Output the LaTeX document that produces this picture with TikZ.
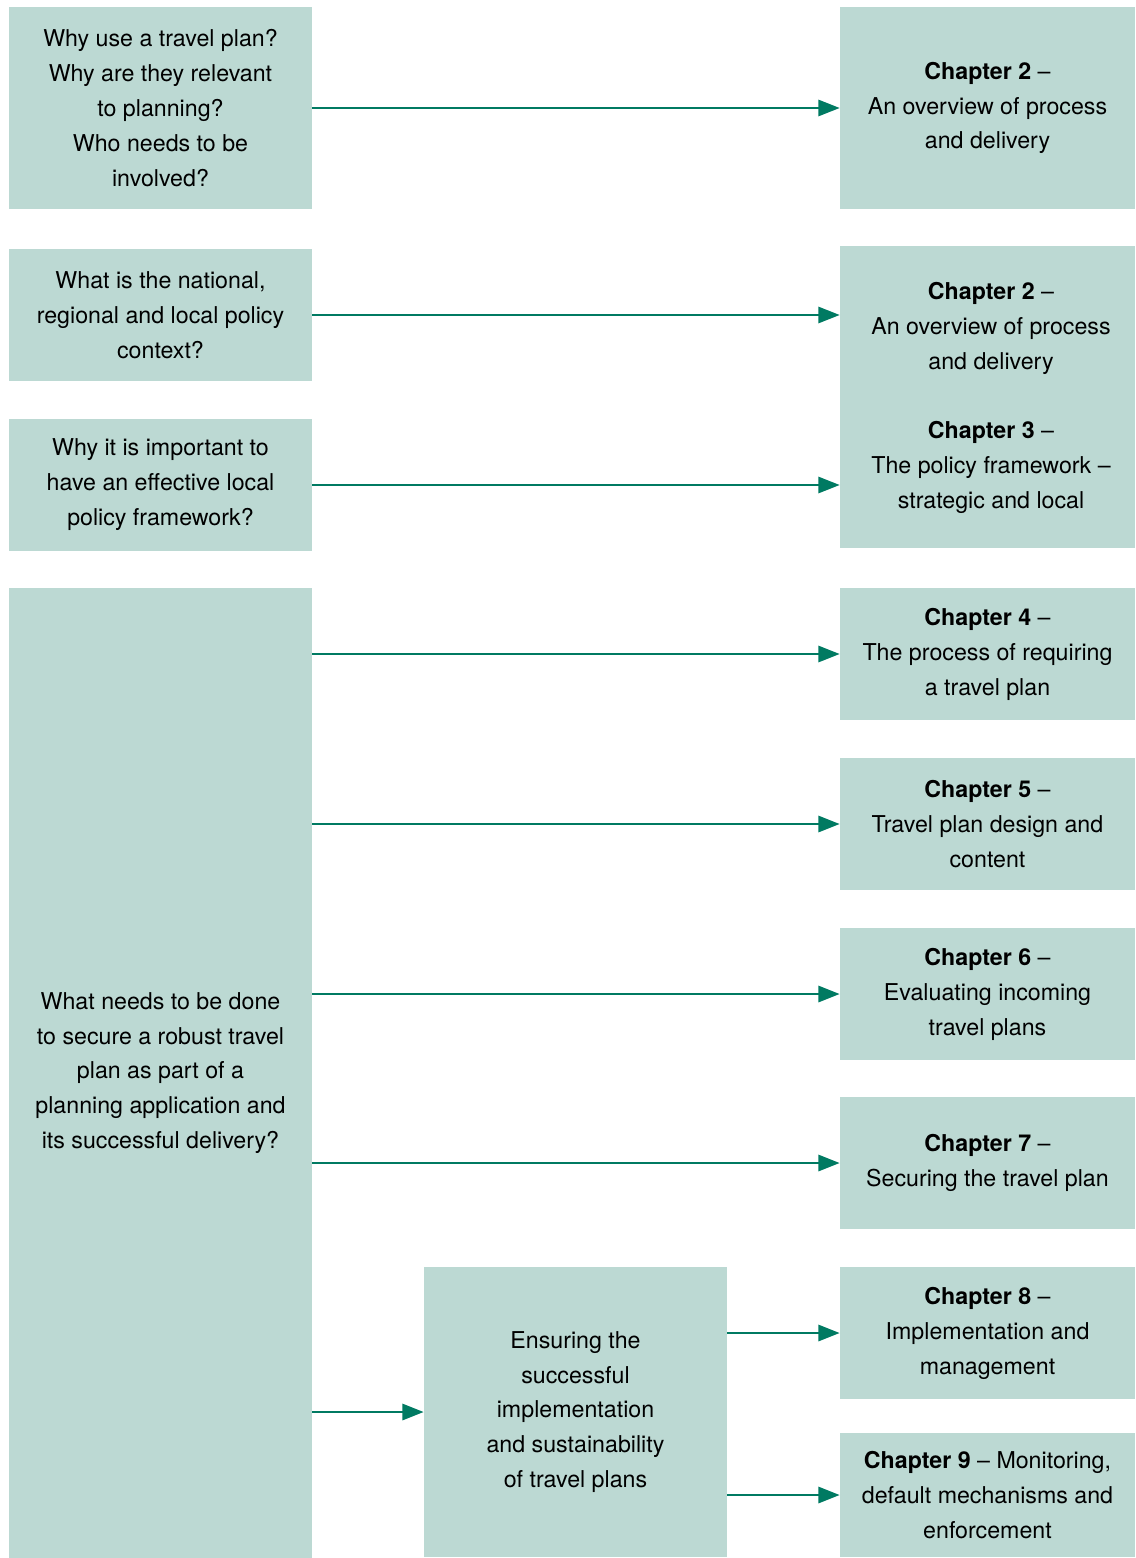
\documentclass[tikz,border=0pt]{standalone}
\usepackage{fontspec}
\setmainfont{TeX Gyre Heros}
\usetikzlibrary{arrows.meta}

\definecolor{boxfill}{HTML}{BCD9D3}
\definecolor{arrowgreen}{HTML}{007A62}

\tikzset{
    qbox/.style={fill=boxfill, inner sep=0pt, align=center, minimum width=227.25pt,
        font=\fontsize{17.4}{26.2}\selectfont},
    chbox/.style={qbox, minimum width=221.25pt},
    ctext/.style={inner sep=0pt, align=center, font=\fontsize{17.4}{26.2}\selectfont},
    arr/.style={draw=arrowgreen, line width=2.2pt, -{Triangle[length=16pt,width=12pt]}}
}

\begin{document}
\begin{tikzpicture}[x=0.75pt, y=-0.75pt]
        \useasboundingbox (0,0) rectangle (1135,1558);
        % questions on the left
        \node[qbox, minimum height=151.5pt] (why) at (160.5,108) {Why use a travel plan?\\Why are they relevant\\to planning?\\Who needs to be\\involved?};
        \node[qbox, minimum height=99pt] (policy) at (160.5,315) {What is the national,\\regional and local policy\\context?};
        \node[qbox, minimum height=99pt] (local) at (160.5,485) {Why it is important to\\have an effective local\\policy framework?};
        \node[qbox, minimum height=727.5pt] (robust) at (160.5,1073) {What needs to be done\\to secure a robust travel\\plan as part of a\\planning application and\\its successful delivery?};
        \node[qbox, minimum height=217.5pt] (ensure) at (575.5,1412) {Ensuring the\\successful\\implementation\\and sustainability\\of travel plans};
        % chapters on the right
        \node[chbox, minimum height=151.5pt] (chap2a) at (987.5,108) {\textbf{Chapter 2} --\\An overview of process\\and delivery};
        \node[chbox, minimum height=226.5pt] (chap23) at (987.5,397) {};
        \node[ctext] (chap2b) at (991,328) {\textbf{Chapter 2} --\\An overview of process\\and delivery};
        \node[ctext] (chap3) at (991,467) {\textbf{Chapter 3} --\\The policy framework --\\strategic and local};
        \node[chbox, minimum height=99pt] (chap4) at (987.5,654) {\textbf{Chapter 4} --\\The process of requiring\\a travel plan};
        \node[chbox, minimum height=99pt] (chap5) at (987.5,824) {\textbf{Chapter 5} --\\Travel plan design and\\content};
        \node[chbox, minimum height=99pt] (chap6) at (987.5,994) {\textbf{Chapter 6} --\\Evaluating incoming\\travel plans};
        \node[chbox, minimum height=99pt] (chap7) at (987.5,1163) {\textbf{Chapter 7} --\\Securing the travel plan};
        \node[chbox, minimum height=99pt] (chap8) at (987.5,1333) {\textbf{Chapter 8} --\\Implementation and\\management};
        \node[chbox, minimum height=93pt] (chap9) at (987.5,1495) {\textbf{Chapter 9} -- Monitoring,\\default mechanisms and\\enforcement};
        % arrows
        \draw[arr] (why.east) -- (chap2a.west);
        \draw[arr] (policy.east) -- (policy.east -| chap23.west);
        \draw[arr] (local.east) -- (local.east -| chap23.west);
        \draw[arr] (robust.east |- chap4) -- (chap4.west);
        \draw[arr] (robust.east |- chap5) -- (chap5.west);
        \draw[arr] (robust.east |- chap6) -- (chap6.west);
        \draw[arr] (robust.east |- chap7) -- (chap7.west);
        \draw[arr] (robust.east |- ensure) -- (ensure.west);
        \draw[arr] (ensure.east |- chap8) -- (chap8.west);
        \draw[arr] (ensure.east |- chap9) -- (chap9.west);
\end{tikzpicture}
\end{document}
